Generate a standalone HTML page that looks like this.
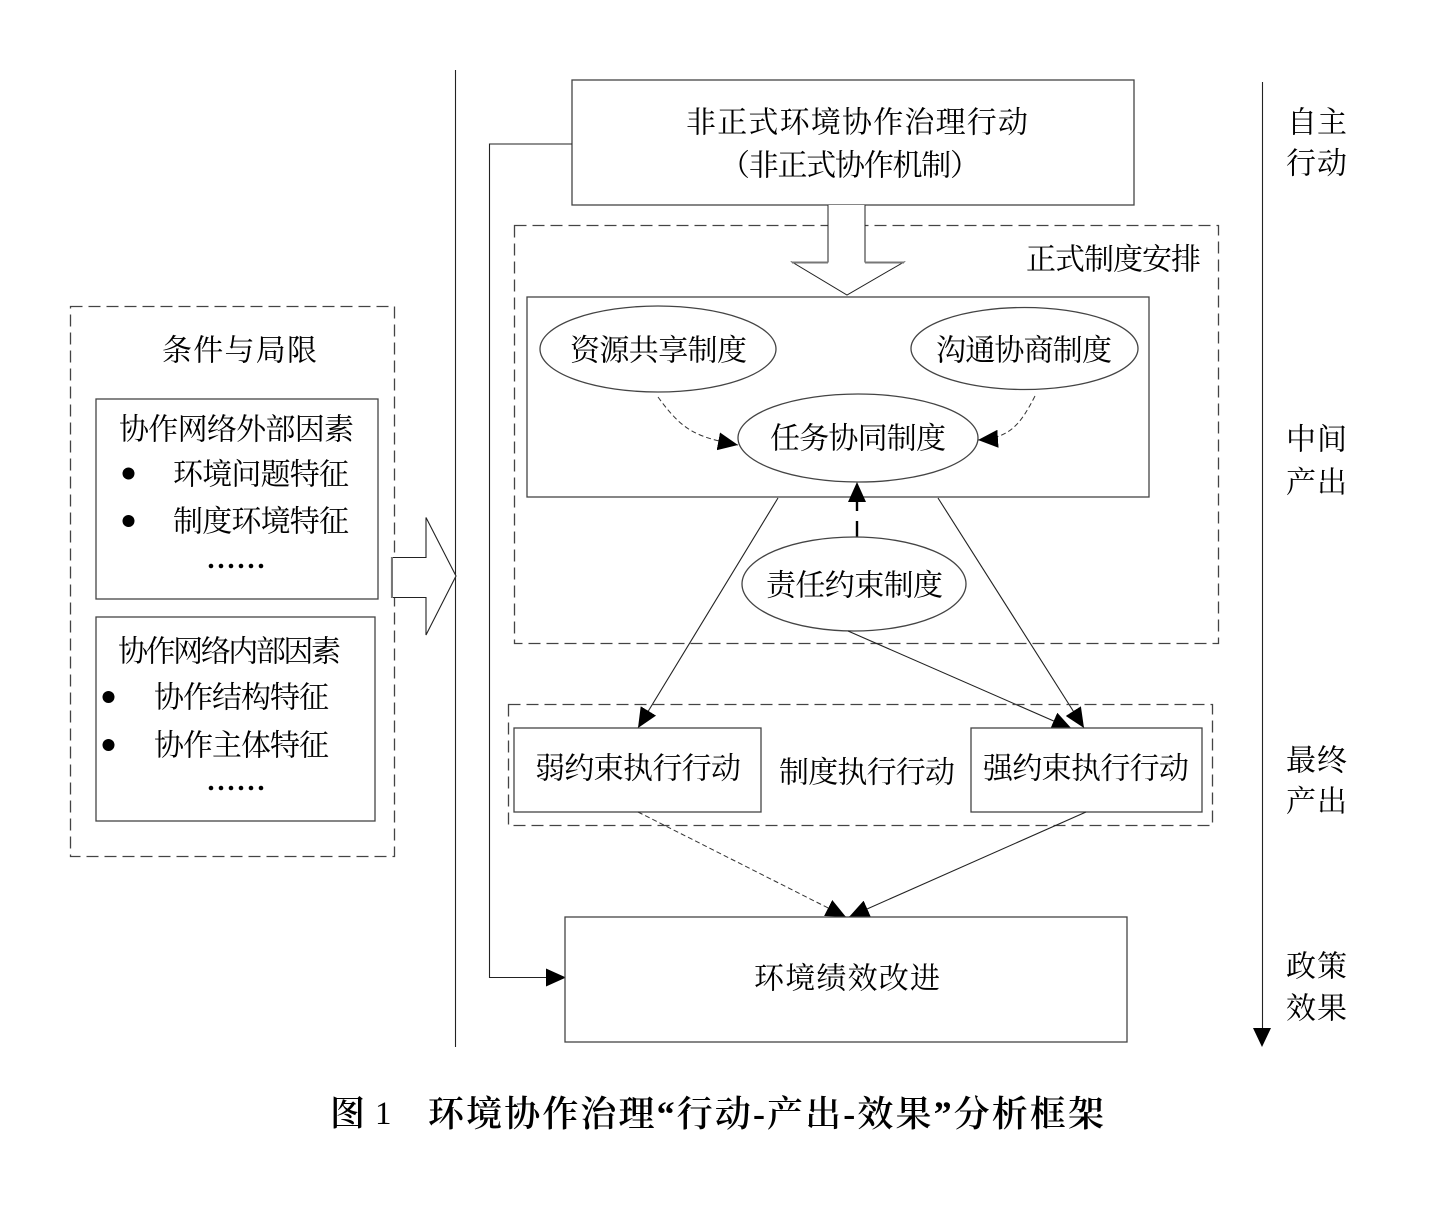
<!DOCTYPE html>
<html lang="zh"><head><meta charset="utf-8"><title>分析框架</title>
<style>
html,body{margin:0;padding:0;background:#fff}
svg{display:block}
text{font-family:"Liberation Serif","Noto Serif CJK SC",serif;fill:#000;font-size:30px;dominant-baseline:central}
.b{fill:#fff;stroke:#444;stroke-width:1.3}
.l{fill:none;stroke:#222;stroke-width:1.1}
.d{fill:none;stroke:#444;stroke-width:1.3;stroke-dasharray:12 6}
</style></head><body>
<svg width="1446" height="1215" viewBox="0 0 1446 1215" xmlns="http://www.w3.org/2000/svg">
<defs>
<marker id="a" markerUnits="userSpaceOnUse" markerWidth="21" markerHeight="18" refX="20" refY="9" orient="auto"><path d="M0 0L20 9L0 18z" fill="#000"/></marker>
</defs>
<rect width="1446" height="1215" fill="#fff"/>

<!-- dividers -->
<line class="l" x1="455.500" y1="70" x2="455.500" y2="1047"/>
<line class="l" x1="1262.500" y1="82" x2="1262.500" y2="1030"/>
<path d="M1253 1028H1271L1262 1047z" fill="#000"/>

<!-- left panel -->
<rect class="d" x="70.500" y="306.500" width="324" height="550"/>
<text x="162" y="351" textLength="155">条件与局限</text>
<rect class="b" x="96" y="399" width="282" height="200"/>
<text x="119" y="430" textLength="235">协作网络外部因素</text>
<circle cx="128.500" cy="473.500" r="6" fill="#000"/><text x="173" y="475" textLength="176">环境问题特征</text>
<circle cx="128.500" cy="521" r="6" fill="#000"/><text x="173" y="522" textLength="176">制度环境特征</text>
<g fill="#000"><circle cx="211" cy="566" r="2.300"/><circle cx="221" cy="566" r="2.300"/><circle cx="231" cy="566" r="2.300"/><circle cx="241" cy="566" r="2.300"/><circle cx="251" cy="566" r="2.300"/><circle cx="261" cy="566" r="2.300"/></g>
<rect class="b" x="96" y="617" width="279" height="204"/>
<text x="118" y="652" textLength="223">协作网络内部因素</text>
<circle cx="108.500" cy="697" r="6" fill="#000"/><text x="154" y="698" textLength="175">协作结构特征</text>
<circle cx="108.500" cy="745" r="6" fill="#000"/><text x="154" y="746" textLength="175">协作主体特征</text>
<g fill="#000"><circle cx="211" cy="788" r="2.300"/><circle cx="221" cy="788" r="2.300"/><circle cx="231" cy="788" r="2.300"/><circle cx="241" cy="788" r="2.300"/><circle cx="251" cy="788" r="2.300"/><circle cx="261" cy="788" r="2.300"/></g>
<path class="l" d="M391.500 557.500H426V517.500L456 576L426 635V597.500H391.500z" style="fill:#fff"/>
<line x1="392" y1="557" x2="392" y2="598" stroke="#777" stroke-width="2"/>

<!-- top box -->
<rect class="b" x="572" y="80" width="562" height="125"/>
<text x="686" y="123" textLength="342">非正式环境协作治理行动</text>
<text x="720" y="166" textLength="260">（非正式协作机制）</text>
<path class="l" d="M572 144H489.500V977.500H566" marker-end="url(#a)"/>

<!-- formal -->
<rect class="d" x="514.500" y="225.500" width="704" height="418"/>
<text x="1026" y="260" textLength="175">正式制度安排</text>
<rect class="b" x="527" y="297" width="622" height="200"/>
<path d="M828 205V262H792L847 295L904 262H865V205" fill="#fff" stroke="#222" stroke-width="1"/>
<path d="M792 262.500H828M865 262.500H904" stroke="#777" stroke-width="2" fill="none"/>
<ellipse class="b" cx="658" cy="349" rx="118" ry="43"/>
<text x="570" y="351" textLength="177">资源共享制度</text>
<ellipse class="b" cx="1024.500" cy="348.500" rx="113.500" ry="41"/>
<text x="936" y="351" textLength="176">沟通协商制度</text>
<ellipse class="b" cx="858" cy="438" rx="120" ry="44"/>
<text x="770" y="439" textLength="176">任务协同制度</text>
<path d="M658 397C682 430 695 437 738 445" fill="none" stroke="#333" stroke-width="1" stroke-dasharray="5 3" marker-end="url(#a)"/>
<path d="M1035 396C1020 425 1010 438 978 440" fill="none" stroke="#333" stroke-width="1" stroke-dasharray="5 3" marker-end="url(#a)"/>
<line x1="857" y1="541" x2="857" y2="482" stroke="#000" stroke-width="2.400" stroke-dasharray="20 10" marker-end="url(#a)"/>
<ellipse class="b" cx="854" cy="584" rx="112" ry="47"/>
<text x="766" y="586" textLength="177">责任约束制度</text>
<line class="l" x1="778" y1="498" x2="638" y2="728" marker-end="url(#a)"/>
<line class="l" x1="938" y1="498" x2="1084" y2="728" marker-end="url(#a)"/>
<line class="l" x1="848" y1="631" x2="1072" y2="729" marker-end="url(#a)"/>

<!-- execution -->
<rect class="d" x="508.500" y="704.500" width="704" height="121"/>
<rect class="b" x="514" y="728" width="247" height="84"/>
<text x="535" y="769" textLength="206">弱约束执行行动</text>
<text x="779" y="773" textLength="176">制度执行行动</text>
<rect class="b" x="971" y="728" width="231" height="84"/>
<text x="983" y="769" textLength="206">强约束执行行动</text>
<line x1="638" y1="812" x2="846" y2="917" stroke="#333" stroke-width="1" stroke-dasharray="5 3" marker-end="url(#a)"/>
<line class="l" x1="1086" y1="812" x2="849" y2="917" marker-end="url(#a)"/>

<!-- bottom -->
<rect class="b" x="565" y="917" width="562" height="125"/>
<text x="754" y="979" textLength="186">环境绩效改进</text>

<!-- right labels -->
<text x="1287" y="123" textLength="60">自主</text>
<text x="1286" y="164" textLength="61">行动</text>
<text x="1286" y="440" textLength="61">中间</text>
<text x="1286" y="483" textLength="61">产出</text>
<text x="1286" y="761" textLength="61">最终</text>
<text x="1286" y="802" textLength="61">产出</text>
<text x="1286" y="967" textLength="61">政策</text>
<text x="1286" y="1009" textLength="61">效果</text>

<!-- caption -->
<text x="330" y="1114" style="font-size:35px;font-weight:600">图</text>
<text x="375" y="1114" style="font-size:33px">1</text>
<text x="428" y="1114" style="font-size:36px;font-weight:600" textLength="676">环境协作治理“行动-产出-效果”分析框架</text>
</svg>
</body></html>
